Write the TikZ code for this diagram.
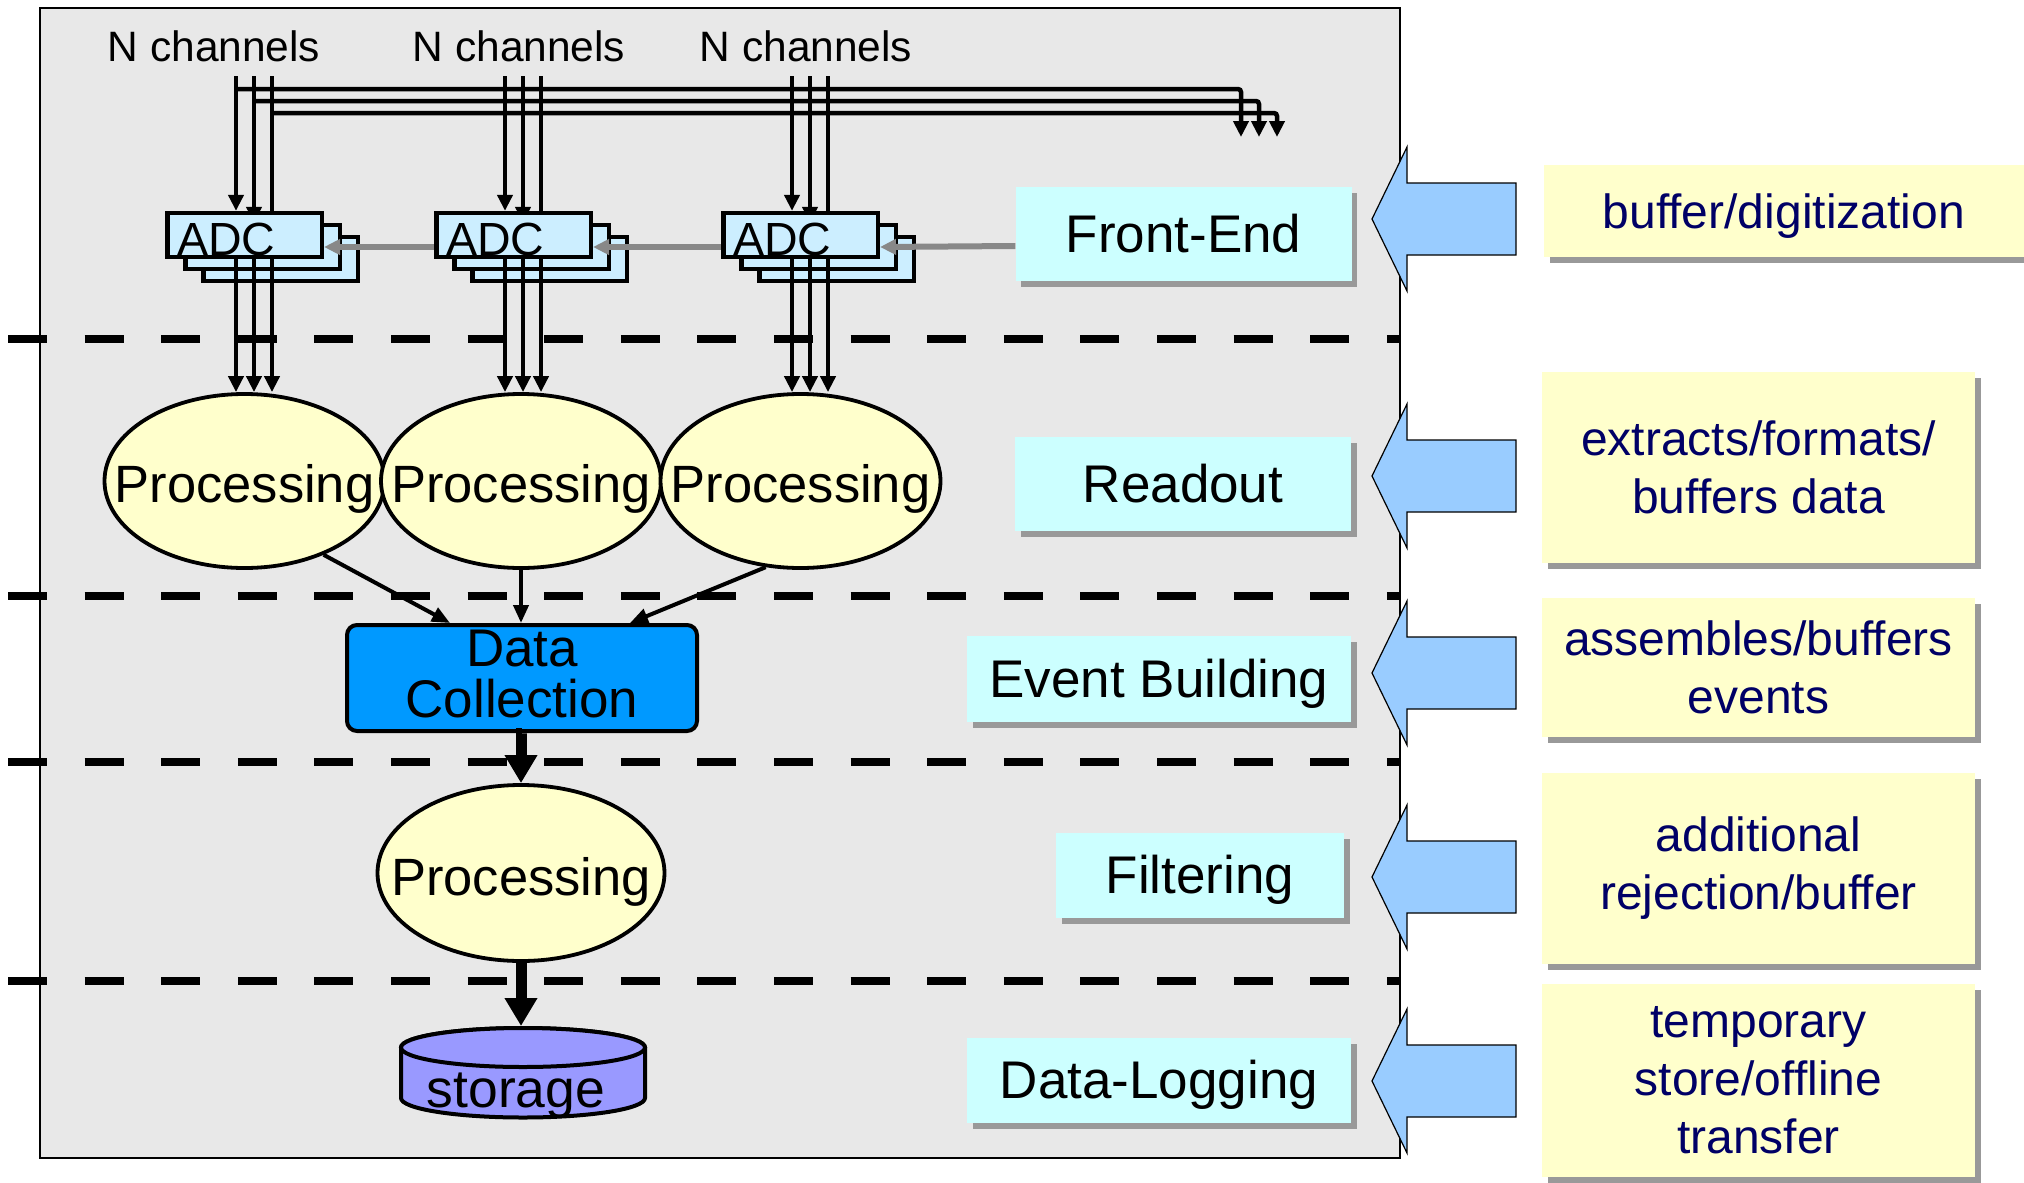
\documentclass[tikz,border=0pt]{standalone}
\usepackage{fontspec}
\setmainfont{Liberation Sans}[Ligatures=NoCommon]
\usetikzlibrary{arrows.meta,shapes.geometric,calc,shadows}
\definecolor{bggray}{RGB}{232,232,232}
\definecolor{adcblue}{RGB}{204,238,255}
\definecolor{procyellow}{RGB}{255,255,204}
\definecolor{dcblue}{RGB}{0,153,255}
\definecolor{storblue}{RGB}{153,153,255}
\definecolor{stagecyan}{RGB}{204,255,255}
\definecolor{shadowgray}{RGB}{153,153,153}
\definecolor{arrowblue}{RGB}{153,204,255}
\definecolor{navytext}{RGB}{0,0,102}
\definecolor{linkgray}{RGB}{136,136,136}
\pgfdeclarelayer{back}
\pgfsetlayers{back,main}
\begin{document}
\begin{tikzpicture}[x=1pt,y=-1pt,
  chanarrow/.style={line width=4.5pt,-{Triangle[length=16pt,width=15pt]}},
  adc/.style={draw,line width=4.5pt,fill=adcblue,minimum width=154.5pt,minimum height=43.8pt,inner sep=0pt},
  adctext/.style={font=\fontsize{46.5}{54}\selectfont,anchor=base west,inner sep=0pt},
  chlabel/.style={font=\fontsize{42.5}{50}\selectfont,anchor=base,inner sep=0pt},
  proc/.style={ellipse,draw,line width=3.8pt,fill=procyellow,inner sep=0pt},
  proctext/.style={font=\fontsize{52.5}{60}\selectfont,anchor=base,inner sep=0pt},
  stortext/.style={font=\fontsize{53.5}{60}\selectfont,anchor=base,inner sep=0pt},
  link/.style={line width=4pt,-{Triangle[length=18pt,width=15pt]}},
  biglink/.style={line width=11pt,-{Triangle[length=28pt,width=31pt]}},
  graylink/.style={draw=linkgray,line width=6pt,-{Triangle[length=16pt,width=15pt]}},
  dcbox/.style={draw,line width=4pt,fill=dcblue,rounded corners=10pt,minimum width=350pt,minimum height=106pt,inner sep=0pt},
  dctext/.style={font=\fontsize{53}{51}\selectfont,align=center,inner sep=0pt},
  stage/.style={fill=stagecyan,inner sep=0pt,font=\fontsize{53}{60}\selectfont,text height=36pt,text depth=0pt,
    general shadow={fill=shadowgray,shadow xshift=5.5pt,shadow yshift=-6pt}},
  note/.style={fill=procyellow,text=navytext,inner sep=0pt,font=\fontsize{48}{58}\selectfont,
    general shadow={fill=shadowgray,shadow xshift=6pt,shadow yshift=-6pt}},
  sep/.style={line width=8pt,dash pattern=on 39pt off 37.6pt},
  bluearrow/.style={draw=black,line width=1.2pt,fill=arrowblue},
  stor/.style={draw,line width=4pt,fill=storblue}
]
\useasboundingbox (0,0) rectangle (2024,1183);
\clip (0,0) rectangle (2024,1183);

\begin{pgfonlayer}{back}
% background panel
\draw[fill=bggray,line width=2pt] (40,8) rectangle (1400,1158);
% stage separators
\foreach \yy in {339,596,762,981} \draw[sep] (8,\yy) -- (1400,\yy);
\end{pgfonlayer}

% channel labels
\node[chlabel] (ch1) at (214,61) {N channels};
\node[chlabel] (ch2) at (519,61) {N channels};
\node[chlabel] (ch3) at (806,61) {N channels};

% bus lines to the right
\foreach \k in {0,1,2} {
  \coordinate (bus\k) at (1241+18*\k,137);
  \draw[chanarrow,rounded corners=3pt] (236+18*\k,89+12*\k) -- (1241+18*\k,89+12*\k) -- (bus\k);
}

% ADC boxes (stack of three)
\foreach \g/\x in {1/236,2/505,3/792} {
  \node[adc] (ADC\g2) at (\x+44.5,259) {};
  \node[adc] (ADC\g1) at (\x+26.5,247) {};
  \node[adc] (ADC\g0) at (\x+8.5,235) {};
}

% Processing ellipses
\node[proc,minimum width=280pt,minimum height=174pt] (P1) at (244.5,481) {};
\node[proc,minimum width=280pt,minimum height=174pt] (P2) at (521,481) {};
\node[proc,minimum width=280pt,minimum height=174pt] (P3) at (800.5,481) {};

\foreach \g/\x in {1/236,2/505,3/792} {
  \foreach \k in {0,1,2} {
    \pgfmathsetmacro\xx{\x+18*\k}
    \begin{pgfonlayer}{back}
    \draw[chanarrow] (\xx,76) -- (\xx,76 |- ADC\g\k.north);
    \end{pgfonlayer}
    \draw[chanarrow] (\xx,300 |- ADC\g0.south) -- (\xx,300 |- P\g.north);
  }
  \node[adctext] (T\g) at ($(ADC\g0.west)+(12,20)$) {ADC};
}

\node[proctext] (P1t) at ([yshift=-21pt]P1.center) {Processing};
\node[proctext] (P2t) at ([yshift=-21pt]P2.center) {Processing};
\node[proctext] (P3t) at ([yshift=-21pt]P3.center) {Processing};

% Data collection
\node[dcbox] (DC) at (522,678) {};
\node[dctext] (DCt) at ([yshift=4pt]DC.center) {Data\\Collection};
\draw[link] (P1.-43) -- ($(DC.north)+(-72,0)$);
\draw[link] (P2.south) -- (P2.south |- DC.north);
\draw[link] (P3.-112) -- ($(DC.north)+(108,0)$);

% Filtering processing
\node[proc,minimum width=287pt,minimum height=176pt] (P4) at (521,873) {};
\node[proctext] (P4t) at ([yshift=-22pt]P4.center) {Processing};
\draw[biglink] (DC.south) -- (DC.south -| P4.north) -- (P4.north);

% storage
\coordinate (Stop) at (523,1026);
\draw[stor] (401,1047.5) -- (401,1098) arc[start angle=180,end angle=0,x radius=122,y radius=19.5]
  -- (645,1047.5) arc[start angle=0,end angle=-180,x radius=122,y radius=19.5] -- cycle;
\draw[stor] (523,1047.5) ellipse [x radius=122,y radius=19.5];
\node[stortext] (S) at (516,1107) {storage};
\draw[biglink] (P4.south) -- (P4.south |- Stop);

% stage labels
\node[stage,minimum width=336pt,minimum height=93.4pt] (FE) at (1183.6,234) {Front-End};
\node[stage,minimum width=336pt,minimum height=94pt] (RO) at (1183,484) {Readout};
\node[stage,minimum width=384pt,minimum height=85.5pt] (EB) at (1159,679) {Event Building};
\node[stage,minimum width=288pt,minimum height=85pt] (FI) at (1200,875.5) {Filtering};
\node[stage,minimum width=384pt,minimum height=85.3pt] (DL) at (1159,1080.4) {Data-Logging};

% gray control arrows between ADCs
\draw[graylink] ([yshift=-12pt]FE.west) -- ([yshift=-12pt]ADC30.east);
\draw[graylink] ([yshift=-12pt]ADC30.west) -- ([yshift=-12pt]ADC20.east);
\draw[graylink] ([yshift=-12pt]ADC20.west) -- ([yshift=-12pt]ADC10.east);

% big blue arrows
\foreach \c in {219,476,673,877,1081} {
  \draw[bluearrow] (1372,\c) -- (1407,\c-72) -- (1407,\c-36) -- (1516,\c-36)
    -- (1516,\c+36) -- (1407,\c+36) -- (1407,\c+72) -- cycle;
}

% notes
\node[note,minimum width=480.5pt,minimum height=92pt,text height=34pt,text depth=0pt] (B1) at (1783.75,211) {buffer/digitization};
\node[note,align=center,minimum width=433pt,minimum height=191pt] (B2) at (1758.5,467.5) {extracts/formats/\\buffers data};
\node[note,align=center,minimum width=433pt,minimum height=139pt] (B3) at (1758.5,667.5) {assembles/buffers\\events};
\node[note,align=center,minimum width=433pt,minimum height=191pt] (B4) at (1758.5,868.5) {additional\\rejection/buffer};
\node[note,align=center,minimum width=433pt,minimum height=193pt] (B5) at (1758.5,1080.5) {temporary\\store/offline\\transfer};
\end{tikzpicture}
\end{document}
